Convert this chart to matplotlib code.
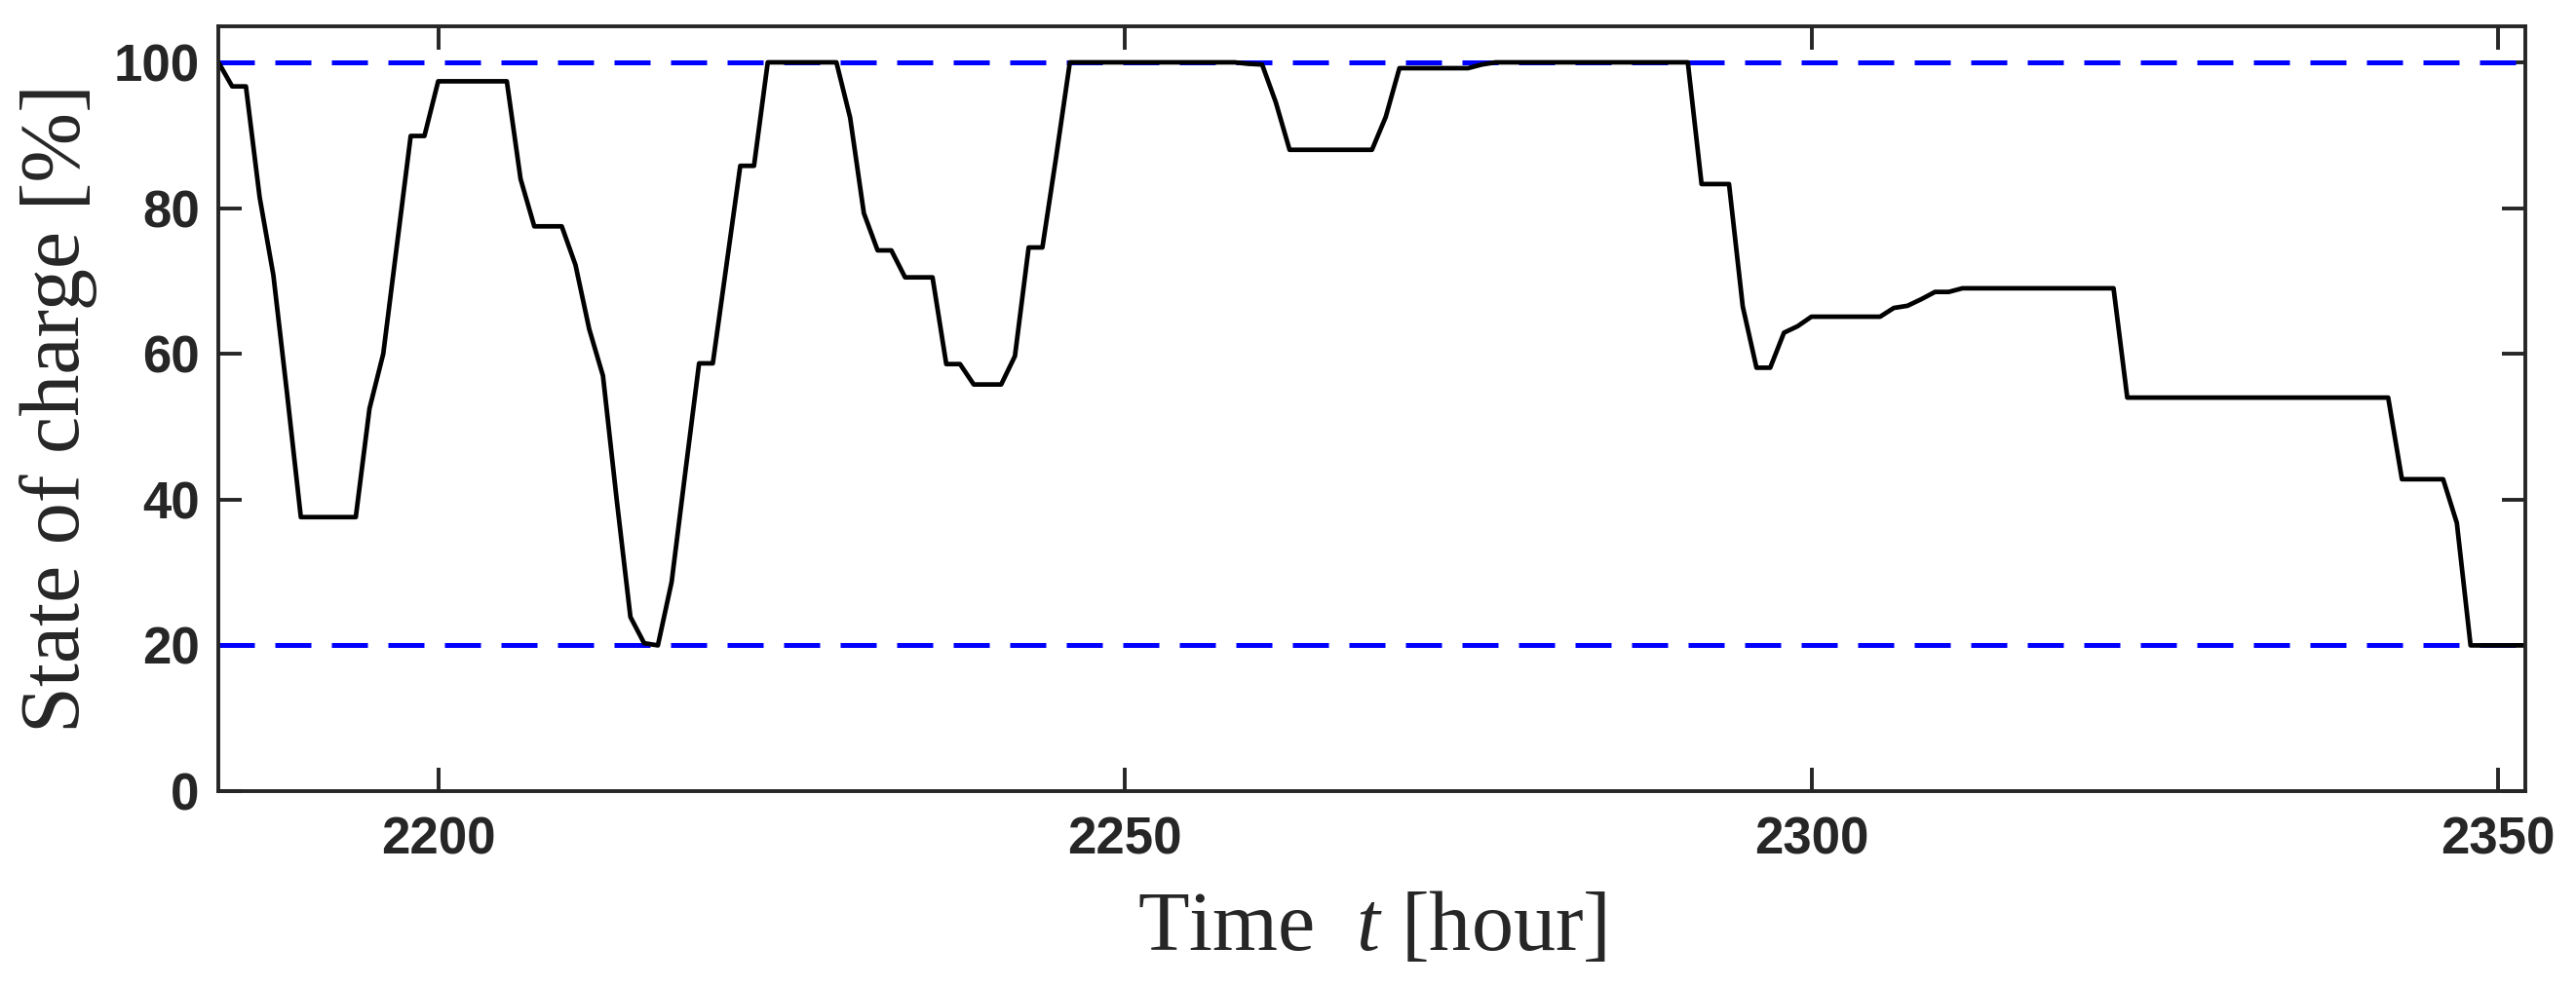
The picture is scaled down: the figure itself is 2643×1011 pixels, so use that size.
import numpy as np
import matplotlib
matplotlib.use('Agg')
from matplotlib import pyplot as plt

# hourly state of charge [%], t = 2184 ... 2352
hours = np.arange(2184, 2353)
soc = [
    100, 96.7, 96.7, 81.5, 70.8, 54.5, 37.6, 37.6, 37.6, 37.6, 37.6, 52.5,
    60.0, 75.0, 89.9, 89.9, 97.4, 97.4, 97.4, 97.4, 97.4, 97.4, 84.0, 77.5,
    77.5, 77.5, 72.2, 63.4, 57.0, 40.0, 23.9, 20.3, 20.0, 28.7, 43.8, 58.7,
    58.7, 72.3, 85.8, 85.8, 100, 100, 100, 100, 100, 100, 92.4, 79.3,
    74.2, 74.2, 70.5, 70.5, 70.5, 58.6, 58.6, 55.8, 55.8, 55.8, 59.7, 74.6,
    74.6, 87.0, 100, 100, 100, 100, 100, 100, 100, 100, 100, 100,
    100, 100, 100, 99.8, 99.7, 94.5, 88.0, 88.0, 88.0, 88.0, 88.0, 88.0,
    88.0, 92.5, 99.2, 99.2, 99.2, 99.2, 99.2, 99.2, 99.7, 100, 100, 100,
    100, 100, 100, 100, 100, 100, 100, 100, 100, 100, 100, 100,
    83.3, 83.3, 83.3, 66.5, 58.1, 58.1, 62.9, 63.8, 65.1, 65.1, 65.1, 65.1,
    65.1, 65.1, 66.3, 66.6, 67.5, 68.5, 68.5, 69.0, 69.0, 69.0, 69.0, 69.0,
    69.0, 69.0, 69.0, 69.0, 69.0, 69.0, 69.0, 54.0, 54.0, 54.0, 54.0, 54.0,
    54.0, 54.0, 54.0, 54.0, 54.0, 54.0, 54.0, 54.0, 54.0, 54.0, 54.0, 54.0,
    54.0, 54.0, 54.0, 42.8, 42.8, 42.8, 42.8, 36.8, 20.0, 20.0, 20.0, 20.0,
    20.0,
]
soc_max = 100
soc_min = 20
xticks = [2200, 2250, 2300, 2350]
yticks = [0, 20, 40, 60, 80, 100]

axis_color = '#262626'
plt.rcParams['mathtext.fontset'] = 'custom'
plt.rcParams['mathtext.rm'] = 'Liberation Serif'
plt.rcParams['mathtext.it'] = 'Liberation Serif:italic'

fig = plt.figure(figsize = (26.43, 10.11), dpi = 100)
ax = fig.add_axes([0.0848, 0.1968, 0.8956, 0.7769])

ax.axhline(soc_max, color = 'blue', lw = 3.6, dashes = (7.4, 4.2))
ax.axhline(soc_min, color = 'blue', lw = 3.6, dashes = (7.4, 4.2))
ax.plot(hours, soc, color = 'black', lw = 3.4)

ax.set_xlim(2184, 2352)
ax.set_ylim(0, 105)
ax.set_xticks(xticks)
ax.set_yticks(yticks)

for s in ax.spines.values():
    s.set_linewidth(2.8)
    s.set_color(axis_color)
ax.tick_params(direction = 'in', top = True, right = True, length = 17, width = 2.8,
               color = axis_color, labelcolor = axis_color)
ax.tick_params(axis = 'x', pad = 18)
ax.tick_params(axis = 'y', pad = 14)
for lab in ax.get_xticklabels() + ax.get_yticklabels():
    lab.set_family(['Liberation Sans', 'DejaVu Sans'])
    lab.set_fontweight('bold')
    lab.set_fontsize(38)

ax.set_xlabel('Time  $t$ [hour]', family = 'Liberation Serif', fontsize = 62, color = axis_color, labelpad = 20)
ax.set_ylabel('State of charge [%]', family = 'Liberation Serif', fontsize = 62, color = axis_color, labelpad = 12)

fig.savefig('out.png', dpi = 100)
